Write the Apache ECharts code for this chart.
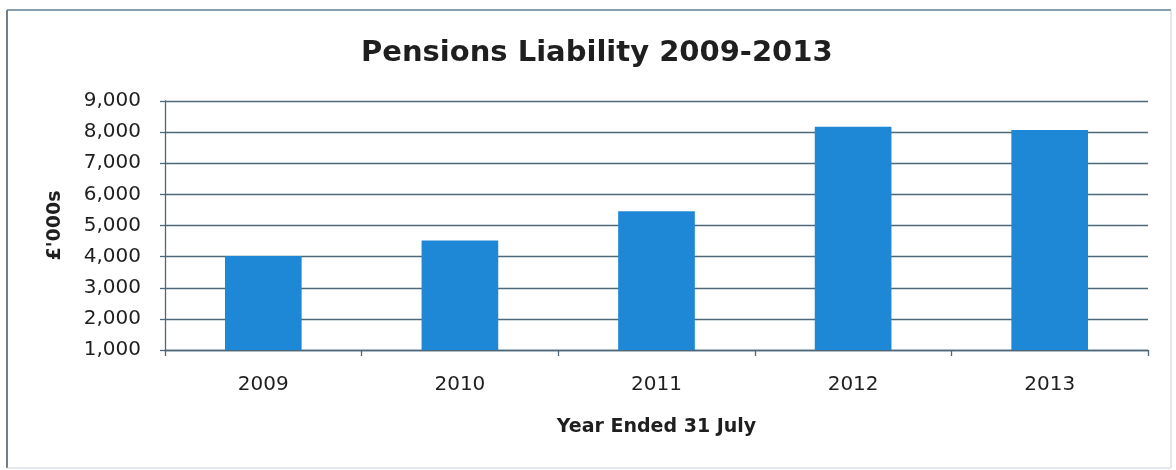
<!DOCTYPE html>
<html>
<head>
<meta charset="utf-8">
<title>Pensions Liability 2009-2013</title>
<script src="https://cdn.jsdelivr.net/npm/echarts@6/dist/echarts.min.js"></script>
<style>
  html, body { margin: 0; padding: 0; background: #ffffff; }
  #chart { width: 1176px; height: 470px; }
</style>
</head>
<body>
<div id="chart"></div>
<script>
// Pension liability at year end (31 July), in £'000s
const years = ['2009', '2010', '2011', '2012', '2013'];
const liability = [4020, 4520, 5460, 8170, 8070];
const yMin = 1000;
const yMax = 9000;
const yStep = 1000;

const FONT = '"DejaVu Sans", "Open Sans", sans-serif';
const TEXT = '#1f1f1f';
const GRID = '#4d6878';

function thousands(v) {
  return String(v).replace(/\B(?=(\d{3})+(?!\d))/g, ',');
}

const chart = echarts.init(document.getElementById('chart'), null, { renderer: 'canvas' });

// chart frame: strong left/top edges, faint right/bottom edges
const frame = [
  { x1: 7, y1: 10, x2: 7, y2: 468, color: '#4f5f6a', w: 1.6 },
  { x1: 7, y1: 10, x2: 1171, y2: 10, color: '#5f7f94', w: 1.5 },
  { x1: 1171, y1: 10, x2: 1171, y2: 468, color: '#c9d2d8', w: 1 },
  { x1: 7, y1: 468, x2: 1171, y2: 468, color: '#c9d2d8', w: 1 }
].map(s => ({
  type: 'line',
  shape: { x1: s.x1, y1: s.y1, x2: s.x2, y2: s.y2 },
  style: { stroke: s.color, lineWidth: s.w },
  silent: true
}));

chart.setOption({
  backgroundColor: '#ffffff',
  animation: false,
  title: {
    text: 'Pensions Liability 2009-2013',
    left: 356,
    top: 34,
    textStyle: { fontFamily: FONT, fontSize: 29, fontWeight: 'bold', color: TEXT }
  },
  graphic: frame,
  grid: { left: 165, right: 28, top: 101, bottom: 120, containLabel: false },
  xAxis: {
    type: 'category',
    data: years,
    name: 'Year Ended 31 July',
    nameLocation: 'middle',
    nameGap: 68,
    nameTextStyle: { fontFamily: FONT, fontSize: 19, fontWeight: 'bold', color: TEXT },
    axisLine: { lineStyle: { color: GRID, width: 1.3 } },
    axisTick: { show: true, length: 6, lineStyle: { color: GRID, width: 1.3 } },
    axisLabel: { margin: 25, fontFamily: FONT, fontSize: 20, color: TEXT }
  },
  yAxis: {
    type: 'value',
    min: yMin,
    max: yMax,
    interval: yStep,
    name: "£'000s",
    nameLocation: 'middle',
    nameRotate: 90,
    nameGap: 100,
    nameTextStyle: { fontFamily: FONT, fontSize: 19, fontWeight: 'bold', color: TEXT },
    axisLine: { show: true, lineStyle: { color: GRID, width: 1.3 } },
    axisTick: { show: true, length: 5, lineStyle: { color: GRID, width: 1.3 } },
    axisLabel: { margin: 24, fontFamily: FONT, fontSize: 20, color: TEXT, formatter: thousands },
    splitLine: { show: true, lineStyle: { color: GRID, width: 1.3 } }
  },
  series: [{
    type: 'bar',
    data: liability,
    barWidth: '39%',
    itemStyle: { color: '#1e88d6' }
  }]
});
</script>
</body>
</html>
